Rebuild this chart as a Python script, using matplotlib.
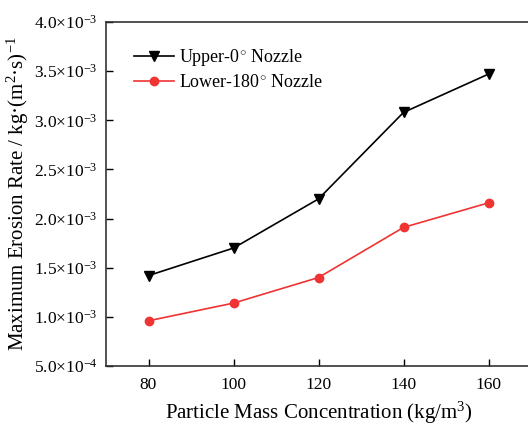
import matplotlib
matplotlib.use("Agg")
import matplotlib.pyplot as plt
from matplotlib.ticker import FuncFormatter

conc = [80, 100, 120, 140, 160]
upper = [1.42e-3, 1.70e-3, 2.20e-3, 3.08e-3, 3.47e-3]
lower = [0.96e-3, 1.14e-3, 1.40e-3, 1.91e-3, 2.16e-3]
y_ticks = [5e-4, 1.0e-3, 1.5e-3, 2.0e-3, 2.5e-3, 3.0e-3, 3.5e-3, 4.0e-3]

plt.rcParams['font.family'] = ['Liberation Serif', 'DejaVu Serif']
plt.rcParams['mathtext.fontset'] = 'custom'
plt.rcParams['mathtext.rm'] = 'Liberation Serif'
plt.rcParams['mathtext.it'] = 'Liberation Serif:italic'

fig = plt.figure(figsize=(5.28, 4.26), dpi=100)
W, H = 528, 426
ax = fig.add_axes([106 / W, 1 - 366 / H, 425 / W, 344 / H])

ax.plot(conc, upper, color='black', marker='v', markersize=7, lw=1.2,
        label='Upper-0$^{\\circ}$ Nozzle')
ax.plot(conc, lower, color='#f03333', marker='o', markersize=6, lw=1.2,
        label='Lower-180$^{\\circ}$ Nozzle')

ax.set_xlim(70, 170)
ax.set_ylim(5e-4, 4e-3)
ax.set_xticks(conc)
ax.set_yticks(y_ticks)

def fmt(v, pos):
    exp = -3 if v >= 1e-3 - 1e-12 else -4
    m = v / 10 ** exp
    return f"{m:.1f}×10$^{{{exp}}}$"

ax.yaxis.set_major_formatter(FuncFormatter(fmt))
ax.tick_params(direction='in', length=5, width=1, labelsize=12.5)
ax.tick_params(axis='x', pad=8)
ax.tick_params(axis='y', pad=6)
for s in ax.spines.values():
    s.set_linewidth(1.2)
    s.set_color('#333333')

ax.set_xlabel('Particle Mass Concentration (kg/m$^3$)', fontsize=15, labelpad=5)
ax.set_ylabel('Maximum Erosion Rate / kg·(m$^2$·s)$^{-1}$', fontsize=15, labelpad=2)

leg = ax.legend(loc='upper left', bbox_to_anchor=(0.028, 0.975), frameon=False,
                fontsize=13, handlelength=2.2, labelspacing=0.35, handletextpad=0.3)

fig.savefig('out.png', dpi=100)
